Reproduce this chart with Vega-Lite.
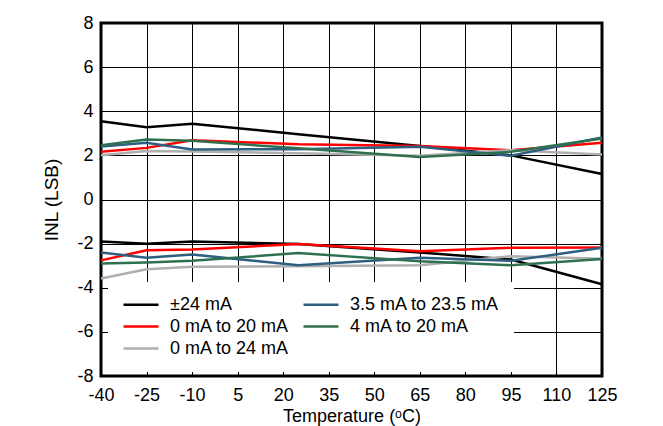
{
  "$schema": "https://vega.github.io/schema/vega-lite/v6.json",
  "width": 501,
  "height": 353,
  "autosize": {"type": "none"},
  "padding": {"left": 101, "top": 23, "right": 61, "bottom": 50},
  "background": "white",
  "config": {
    "view": {"stroke": "#000", "strokeWidth": 3},
    "font": "Liberation Sans"
  },
  "data": {
    "values": [
      {"series": "±24 mA", "bound": "hi", "T": -40, "INL": 3.55},
      {"series": "±24 mA", "bound": "hi", "T": -25, "INL": 3.28},
      {"series": "±24 mA", "bound": "hi", "T": -10, "INL": 3.43},
      {"series": "±24 mA", "bound": "hi", "T": 25, "INL": 2.96},
      {"series": "±24 mA", "bound": "hi", "T": 65, "INL": 2.42},
      {"series": "±24 mA", "bound": "hi", "T": 95, "INL": 2.0},
      {"series": "±24 mA", "bound": "hi", "T": 125, "INL": 1.16},
      {"series": "±24 mA", "bound": "lo", "T": -40, "INL": -1.9},
      {"series": "±24 mA", "bound": "lo", "T": -25, "INL": -2.0},
      {"series": "±24 mA", "bound": "lo", "T": -10, "INL": -1.9},
      {"series": "±24 mA", "bound": "lo", "T": 25, "INL": -2.02},
      {"series": "±24 mA", "bound": "lo", "T": 65, "INL": -2.4},
      {"series": "±24 mA", "bound": "lo", "T": 95, "INL": -2.72},
      {"series": "±24 mA", "bound": "lo", "T": 125, "INL": -3.84},
      {"series": "0 mA to 20 mA", "bound": "hi", "T": -40, "INL": 2.16},
      {"series": "0 mA to 20 mA", "bound": "hi", "T": -25, "INL": 2.34},
      {"series": "0 mA to 20 mA", "bound": "hi", "T": -10, "INL": 2.69},
      {"series": "0 mA to 20 mA", "bound": "hi", "T": 25, "INL": 2.5},
      {"series": "0 mA to 20 mA", "bound": "hi", "T": 65, "INL": 2.42},
      {"series": "0 mA to 20 mA", "bound": "hi", "T": 95, "INL": 2.23},
      {"series": "0 mA to 20 mA", "bound": "hi", "T": 125, "INL": 2.57},
      {"series": "0 mA to 20 mA", "bound": "lo", "T": -40, "INL": -2.76},
      {"series": "0 mA to 20 mA", "bound": "lo", "T": -25, "INL": -2.3},
      {"series": "0 mA to 20 mA", "bound": "lo", "T": -10, "INL": -2.27},
      {"series": "0 mA to 20 mA", "bound": "lo", "T": 25, "INL": -2.02},
      {"series": "0 mA to 20 mA", "bound": "lo", "T": 65, "INL": -2.34},
      {"series": "0 mA to 20 mA", "bound": "lo", "T": 95, "INL": -2.19},
      {"series": "0 mA to 20 mA", "bound": "lo", "T": 125, "INL": -2.18},
      {"series": "0 mA to 24 mA", "bound": "hi", "T": -40, "INL": 2.01},
      {"series": "0 mA to 24 mA", "bound": "hi", "T": -25, "INL": 2.2},
      {"series": "0 mA to 24 mA", "bound": "hi", "T": -10, "INL": 2.18},
      {"series": "0 mA to 24 mA", "bound": "hi", "T": 25, "INL": 2.1},
      {"series": "0 mA to 24 mA", "bound": "hi", "T": 65, "INL": 1.98},
      {"series": "0 mA to 24 mA", "bound": "hi", "T": 95, "INL": 2.23},
      {"series": "0 mA to 24 mA", "bound": "hi", "T": 125, "INL": 2.04},
      {"series": "0 mA to 24 mA", "bound": "lo", "T": -40, "INL": -3.58},
      {"series": "0 mA to 24 mA", "bound": "lo", "T": -25, "INL": -3.16},
      {"series": "0 mA to 24 mA", "bound": "lo", "T": -10, "INL": -3.05},
      {"series": "0 mA to 24 mA", "bound": "lo", "T": 25, "INL": -3.02},
      {"series": "0 mA to 24 mA", "bound": "lo", "T": 65, "INL": -2.98},
      {"series": "0 mA to 24 mA", "bound": "lo", "T": 95, "INL": -2.57},
      {"series": "0 mA to 24 mA", "bound": "lo", "T": 125, "INL": -2.68},
      {"series": "3.5 mA to 23.5 mA", "bound": "hi", "T": -40, "INL": 2.4},
      {"series": "3.5 mA to 23.5 mA", "bound": "hi", "T": -25, "INL": 2.57},
      {"series": "3.5 mA to 23.5 mA", "bound": "hi", "T": -10, "INL": 2.27},
      {"series": "3.5 mA to 23.5 mA", "bound": "hi", "T": 25, "INL": 2.28},
      {"series": "3.5 mA to 23.5 mA", "bound": "hi", "T": 65, "INL": 2.39},
      {"series": "3.5 mA to 23.5 mA", "bound": "hi", "T": 95, "INL": 1.98},
      {"series": "3.5 mA to 23.5 mA", "bound": "hi", "T": 125, "INL": 2.81},
      {"series": "3.5 mA to 23.5 mA", "bound": "lo", "T": -40, "INL": -2.4},
      {"series": "3.5 mA to 23.5 mA", "bound": "lo", "T": -25, "INL": -2.64},
      {"series": "3.5 mA to 23.5 mA", "bound": "lo", "T": -10, "INL": -2.49},
      {"series": "3.5 mA to 23.5 mA", "bound": "lo", "T": 25, "INL": -2.98},
      {"series": "3.5 mA to 23.5 mA", "bound": "lo", "T": 65, "INL": -2.64},
      {"series": "3.5 mA to 23.5 mA", "bound": "lo", "T": 95, "INL": -2.78},
      {"series": "3.5 mA to 23.5 mA", "bound": "lo", "T": 125, "INL": -2.19},
      {"series": "4 mA to 20 mA", "bound": "hi", "T": -40, "INL": 2.46},
      {"series": "4 mA to 20 mA", "bound": "hi", "T": -25, "INL": 2.72},
      {"series": "4 mA to 20 mA", "bound": "hi", "T": -10, "INL": 2.66},
      {"series": "4 mA to 20 mA", "bound": "hi", "T": 25, "INL": 2.32},
      {"series": "4 mA to 20 mA", "bound": "hi", "T": 65, "INL": 1.93},
      {"series": "4 mA to 20 mA", "bound": "hi", "T": 95, "INL": 2.16},
      {"series": "4 mA to 20 mA", "bound": "hi", "T": 125, "INL": 2.76},
      {"series": "4 mA to 20 mA", "bound": "lo", "T": -40, "INL": -2.9},
      {"series": "4 mA to 20 mA", "bound": "lo", "T": -25, "INL": -2.85},
      {"series": "4 mA to 20 mA", "bound": "lo", "T": -10, "INL": -2.78},
      {"series": "4 mA to 20 mA", "bound": "lo", "T": 25, "INL": -2.43},
      {"series": "4 mA to 20 mA", "bound": "lo", "T": 65, "INL": -2.8},
      {"series": "4 mA to 20 mA", "bound": "lo", "T": 95, "INL": -2.98},
      {"series": "4 mA to 20 mA", "bound": "lo", "T": 125, "INL": -2.7}
    ]
  },
  "mark": {"type": "line", "strokeWidth": 2.5},
  "encoding": {
    "x": {
      "field": "T",
      "type": "quantitative",
      "scale": {"domain": [-40, 125], "nice": false, "zero": false},
      "axis": {
        "values": [-40, -25, -10, 5, 20, 35, 50, 65, 80, 95, 110, 125],
        "labelExpr": "replace(datum.label, '−', '-')",
        "title": "Temperature (ᵒC)",
        "grid": true,
        "gridColor": "#000",
        "gridWidth": 1,
        "ticks": false,
        "domain": false,
        "labelFlush": false,
        "labelOverlap": false,
        "labelFontSize": 18,
        "labelPadding": 10,
        "labelColor": "#000",
        "titleFontSize": 18,
        "titleFontWeight": "normal",
        "titleColor": "#000",
        "titlePadding": 3
      }
    },
    "y": {
      "field": "INL",
      "type": "quantitative",
      "scale": {"domain": [-8, 8], "nice": false, "zero": false},
      "axis": {
        "values": [-8, -6, -4, -2, 0, 2, 4, 6, 8],
        "labelExpr": "replace(datum.label, '−', '-')",
        "title": "INL (LSB)",
        "grid": true,
        "gridColor": "#000",
        "gridWidth": 1,
        "ticks": false,
        "domain": false,
        "labelFlush": false,
        "labelOverlap": false,
        "labelFontSize": 18,
        "labelPadding": 8,
        "labelColor": "#000",
        "titleFontSize": 19,
        "titleFontWeight": "normal",
        "titleColor": "#000",
        "titlePadding": 15
      }
    },
    "color": {
      "field": "series",
      "type": "nominal",
      "scale": {
        "domain": ["±24 mA", "0 mA to 20 mA", "0 mA to 24 mA", "3.5 mA to 23.5 mA", "4 mA to 20 mA"],
        "range": ["#000000", "#FF0000", "#AFAFAF", "#2F5F80", "#2E7050"]
      },
      "legend": {
        "orient": "none",
        "legendX": 7,
        "legendY": 259,
        "columns": 2,
        "title": null,
        "fillColor": "white",
        "padding": 14,
        "symbolType": "stroke",
        "symbolSize": 1225,
        "symbolStrokeWidth": 2.5,
        "clipHeight": 17,
        "labelFontSize": 18,
        "labelOffset": 10,
        "labelColor": "#000",
        "labelLimit": 300,
        "rowPadding": 3,
        "columnPadding": 12
      }
    },
    "detail": {"field": "bound"}
  }
}
